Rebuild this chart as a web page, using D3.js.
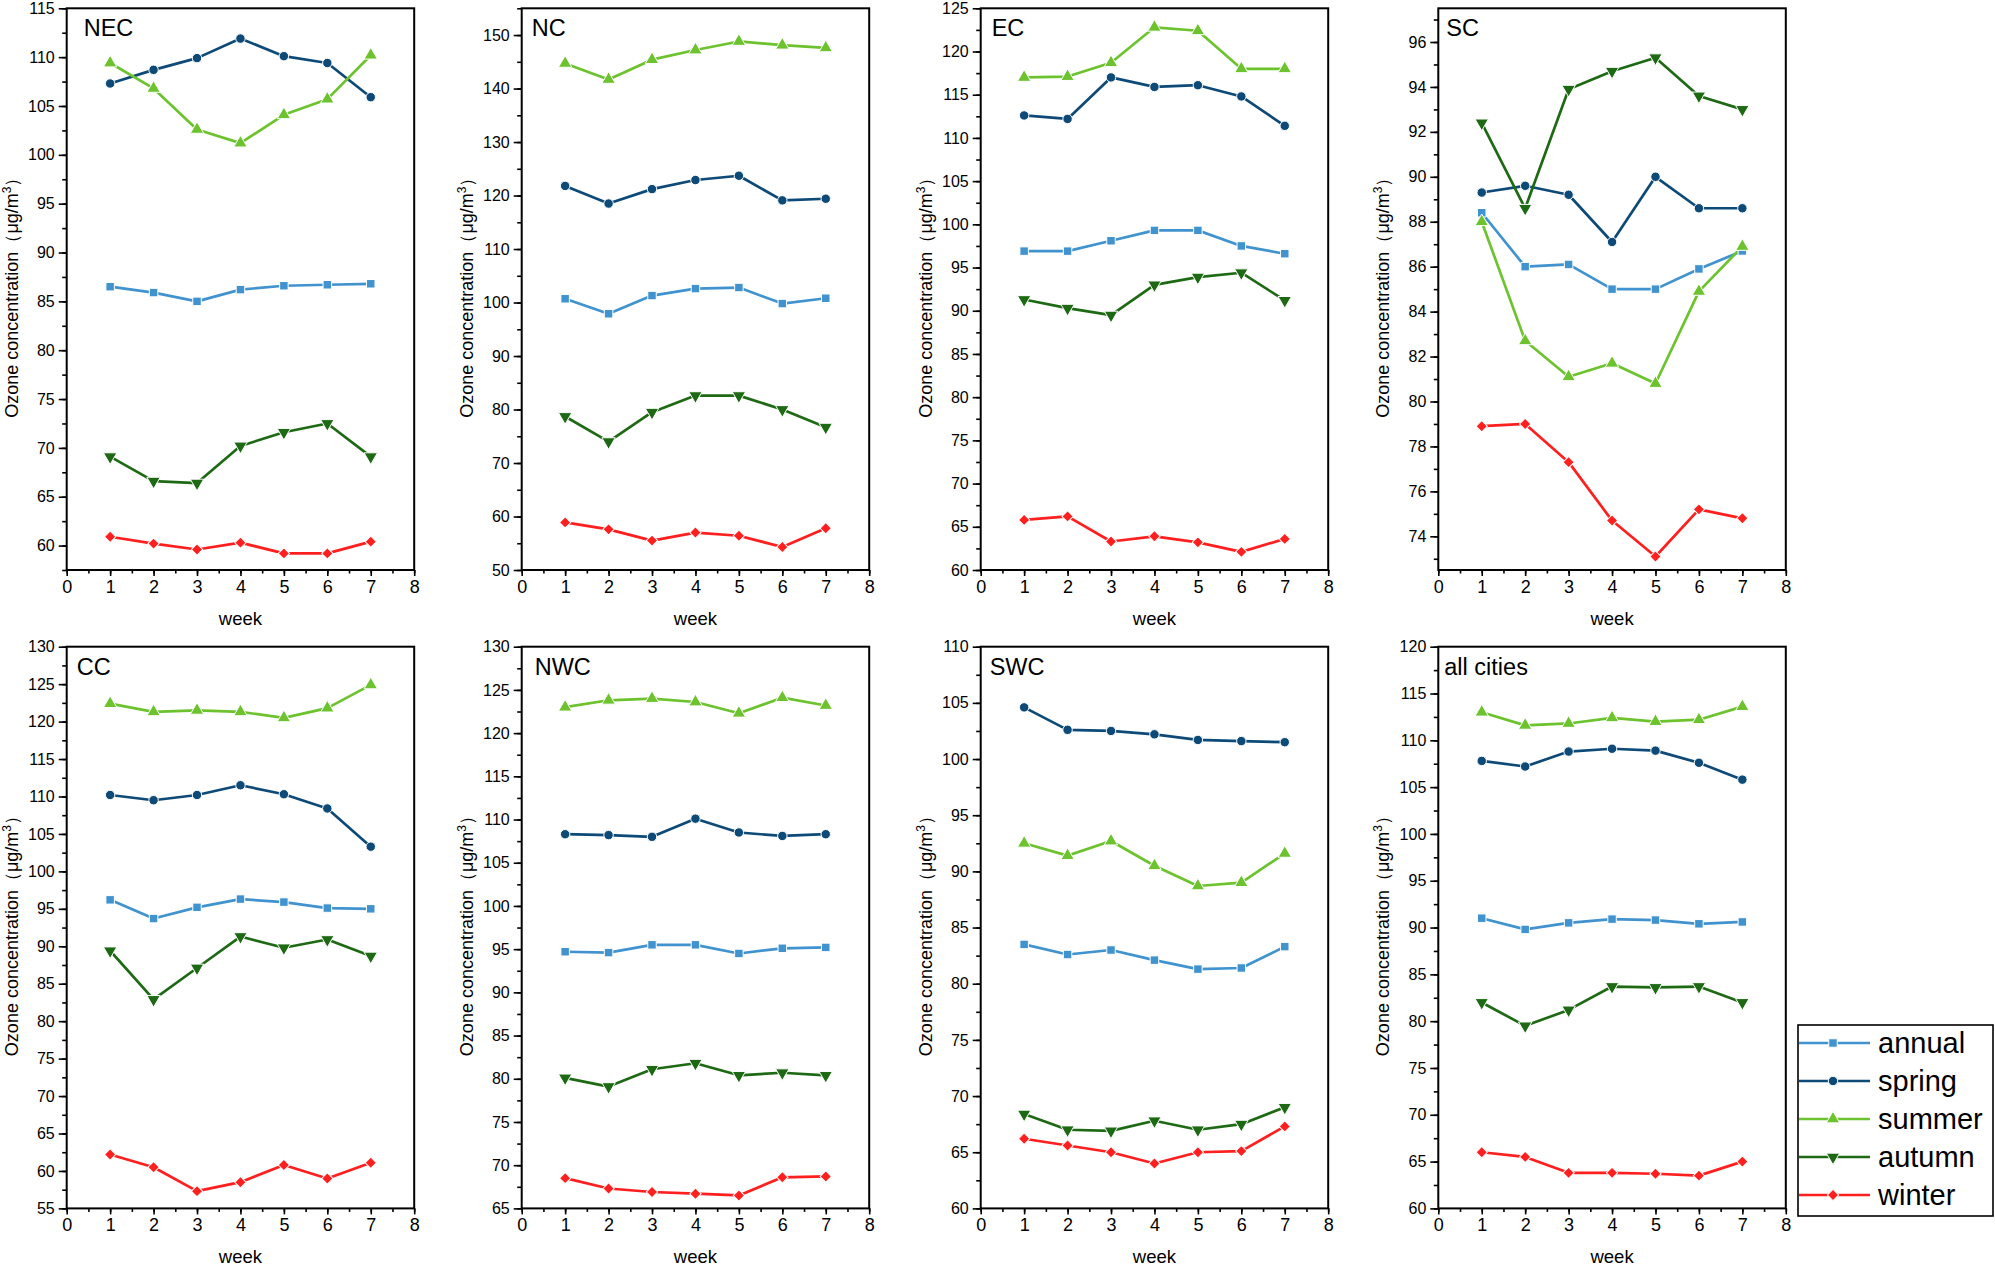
<!DOCTYPE html>
<html>
<head>
<meta charset="utf-8">
<script src="https://cdn.jsdelivr.net/npm/d3@7"></script>
<style>
  body { margin: 0; background: #fff; }
  svg { display: block; font-family: "Liberation Sans", Arial, sans-serif; }
</style>
</head>
<body>
<svg id="chart" width="1995" height="1266"></svg>
<script>
var weeks = [1, 2, 3, 4, 5, 6, 7];
var seasons = ['annual', 'spring', 'summer', 'autumn', 'winter'];
var regions = ['NEC', 'NC', 'EC', 'SC', 'CC', 'NWC', 'SWC', 'all cities'];

// y axis range and labelled ticks for each region
var yMins = [57.5, 50, 60, 72.5, 55, 65, 60, 60];
var yMaxs = [115, 155, 125, 97.5, 130, 130, 110, 120];
var yFirstTicks = [60, 50, 60, 74, 55, 65, 60, 60];
var ySteps = [5, 10, 5, 2, 5, 5, 5, 5];
var xTicks = [0, 1, 2, 3, 4, 5, 6, 7, 8];

// rows: annual, spring, summer, autumn, winter
var necValues = [
  [86.5, 85.9, 85.0, 86.2, 86.6, 86.7, 86.8],
  [107.3, 108.7, 109.9, 111.9, 110.1, 109.4, 105.9],
  [109.4, 106.8, 102.6, 101.2, 104.1, 105.7, 110.2],
  [69.1, 66.6, 66.4, 70.2, 71.6, 72.5, 69.1],
  [60.9, 60.2, 59.6, 60.3, 59.2, 59.2, 60.4]
];
var ncValues = [
  [100.7, 97.9, 101.3, 102.6, 102.8, 99.8, 100.8],
  [121.8, 118.5, 121.2, 122.9, 123.7, 119.1, 119.4],
  [144.7, 141.7, 145.4, 147.2, 148.8, 148.1, 147.6],
  [78.7, 74.0, 79.5, 82.6, 82.6, 80.0, 76.7],
  [58.9, 57.6, 55.5, 57.0, 56.4, 54.3, 57.8]
];
var ecValues = [
  [96.9, 96.9, 98.1, 99.3, 99.3, 97.5, 96.6],
  [112.6, 112.2, 117.0, 115.9, 116.1, 114.8, 111.4],
  [117.0, 117.1, 118.7, 122.8, 122.4, 118.0, 118.0],
  [91.3, 90.3, 89.5, 93.0, 93.9, 94.4, 91.2],
  [65.8, 66.2, 63.3, 63.9, 63.2, 62.1, 63.6]
];
var scValues = [
  [88.4, 86.0, 86.1, 85.0, 85.0, 85.9, 86.7],
  [89.3, 89.6, 89.2, 87.1, 90.0, 88.6, 88.6],
  [88.0, 82.7, 81.1, 81.7, 80.8, 84.9, 86.9],
  [92.4, 88.6, 93.9, 94.7, 95.3, 93.6, 93.0],
  [78.9, 79.0, 77.3, 74.7, 73.1, 75.2, 74.8]
];
var ccValues = [
  [96.2, 93.7, 95.2, 96.3, 95.9, 95.1, 95.0],
  [110.2, 109.5, 110.2, 111.5, 110.3, 108.4, 103.3],
  [122.4, 121.3, 121.5, 121.3, 120.5, 121.8, 124.9],
  [89.4, 82.9, 87.1, 91.3, 89.8, 90.9, 88.7],
  [62.2, 60.5, 57.3, 58.5, 60.8, 59.0, 61.1]
];
var nwcValues = [
  [94.7, 94.6, 95.5, 95.5, 94.5, 95.1, 95.2],
  [108.3, 108.2, 108.0, 110.1, 108.5, 108.1, 108.3],
  [123.0, 123.8, 124.0, 123.6, 122.3, 124.1, 123.2],
  [80.1, 79.1, 81.1, 81.8, 80.4, 80.7, 80.4],
  [68.5, 67.3, 66.9, 66.7, 66.5, 68.6, 68.7]
];
var swcValues = [
  [83.5, 82.6, 83.0, 82.1, 81.3, 81.4, 83.3],
  [104.6, 102.6, 102.5, 102.2, 101.7, 101.6, 101.5],
  [92.5, 91.4, 92.7, 90.5, 88.7, 89.0, 91.6],
  [68.4, 67.0, 66.9, 67.8, 67.0, 67.5, 69.0],
  [66.2, 65.6, 65.0, 64.0, 65.0, 65.1, 67.3]
];
var allValues = [
  [91.0, 89.8, 90.5, 90.9, 90.8, 90.4, 90.6],
  [107.8, 107.2, 108.8, 109.1, 108.9, 107.6, 105.8],
  [113.0, 111.6, 111.8, 112.4, 112.0, 112.2, 113.6],
  [82.0, 79.5, 81.2, 83.7, 83.6, 83.7, 82.0],
  [66.0, 65.5, 63.8, 63.8, 63.7, 63.5, 65.0]
];
var regionValues = [necValues, ncValues, ecValues, scValues, ccValues, nwcValues, swcValues, allValues];

// styling
var colors = ['#4193cf', '#0d4a78', '#6cc32e', '#1e6a14', '#ff1f1f'];
var shapes = [
  { type: d3.symbolSquare, size: 72, rot: 0 },
  { type: d3.symbolCircle, size: 70, rot: 0 },
  { type: d3.symbolTriangle, size: 78, rot: 0 },
  { type: d3.symbolTriangle, size: 78, rot: 180 },
  { type: d3.symbolSquare, size: 64, rot: 45 }
];

var colLefts = [66.7, 521.7, 980.7, 1438.3];
var rowTops = [8.3, 646.7];
var plotW = 347.5;
var plotH = 561.7;
var titleDx = [17, 10, 11, 8, 10, 13, 9, 6];

var svg = d3.select('#chart');

function drawMarker(g, i, x, y) {
    var s = shapes[i];
    g.append('path')
        .attr('d', d3.symbol().type(s.type).size(s.size)())
        .attr('transform', 'translate(' + x + ',' + y + ') rotate(' + s.rot + ')')
        .attr('fill', colors[i])
        .attr('stroke', '#fff')
        .attr('stroke-width', 1);
}

function renderPanel(p) {
    var left = colLefts[p % 4];
    var top = rowTops[Math.floor(p / 4)];
    var g = svg.append('g').attr('transform', 'translate(' + left + ',' + top + ')');

    var x = d3.scaleLinear().domain([0, 8]).range([0, plotW]);
    var y = d3.scaleLinear().domain([yMins[p], yMaxs[p]]).range([plotH, 0]);

    var yTicks = d3.range(yFirstTicks[p], yMaxs[p] + 0.001, ySteps[p]);
    var yMinor = d3.range(yFirstTicks[p] - ySteps[p] / 2, yMaxs[p] + 0.001, ySteps[p] / 2)
        .filter(function (v) { return v >= yMins[p] - 0.001; });
    var xMinor = d3.range(0, 8.001, 0.5);

    // minor ticks
    g.append('g')
        .attr('transform', 'translate(0,' + plotH + ')')
        .call(d3.axisBottom(x).tickValues(xMinor).tickSize(3.5).tickFormat(''))
        .call(function (a) { a.select('.domain').remove(); });
    g.append('g')
        .call(d3.axisLeft(y).tickValues(yMinor).tickSize(4.5).tickFormat(''))
        .call(function (a) { a.select('.domain').remove(); });

    // major ticks and labels
    var xa = g.append('g')
        .attr('transform', 'translate(0,' + plotH + ')')
        .call(d3.axisBottom(x).tickValues(xTicks).tickSize(6).tickPadding(4).tickSizeOuter(0));
    xa.selectAll('text').attr('font-size', 18).attr('fill', '#000');
    var ya = g.append('g')
        .call(d3.axisLeft(y).tickValues(yTicks).tickSize(8).tickPadding(4).tickSizeOuter(0));
    ya.selectAll('text').attr('font-size', 16).attr('fill', '#000');
    g.selectAll('.tick line').attr('stroke', '#000').attr('stroke-width', 1.6);
    g.selectAll('.domain').remove();

    // frame
    g.append('rect')
        .attr('x', 0).attr('y', 0)
        .attr('width', plotW).attr('height', plotH)
        .attr('fill', 'none')
        .attr('stroke', '#000')
        .attr('stroke-width', 2);

    // series
    var line = d3.line()
        .x(function (d, i) { return x(weeks[i]); })
        .y(function (d) { return y(d); });
    regionValues[p].forEach(function (vals, si) {
        g.append('path')
            .datum(vals)
            .attr('d', line)
            .attr('fill', 'none')
            .attr('stroke', colors[si])
            .attr('stroke-width', 2.7)
            .attr('stroke-linejoin', 'round');
    });
    regionValues[p].forEach(function (vals, si) {
        vals.forEach(function (v, i) {
            drawMarker(g, si, x(weeks[i]), y(v));
        });
    });

    // title
    g.append('text')
        .attr('x', titleDx[p])
        .attr('y', 28)
        .attr('font-size', 23.5)
        .text(regions[p]);

    // axis titles
    g.append('text')
        .attr('x', plotW / 2)
        .attr('y', plotH + 55)
        .attr('text-anchor', 'middle')
        .attr('font-size', 18.5)
        .text('week');

    var yl = g.append('text')
        .attr('transform', 'translate(-49,' + (plotH / 2 + 4) + ') rotate(-90)')
        .attr('text-anchor', 'middle')
        .attr('font-size', 18);
    yl.append('tspan').text('Ozone concentration（μg/m');
    yl.append('tspan').attr('baseline-shift', 'super').attr('font-size', 12).text('3');
    yl.append('tspan').text('）');
}

regions.forEach(function (r, p) { renderPanel(p); });

// legend
var lg = svg.append('g').attr('transform', 'translate(1798,1025)');
lg.append('rect')
    .attr('x', 0).attr('y', 0)
    .attr('width', 195).attr('height', 191)
    .attr('fill', '#fff')
    .attr('stroke', '#000')
    .attr('stroke-width', 1.6);
seasons.forEach(function (s, i) {
    var cy = 18 + i * 38;
    lg.append('line')
        .attr('x1', 1).attr('x2', 72)
        .attr('y1', cy).attr('y2', cy)
        .attr('stroke', colors[i])
        .attr('stroke-width', 2.7);
    drawMarker(lg, i, 35, cy);
    lg.append('text')
        .attr('x', 80)
        .attr('y', cy)
        .attr('dy', '0.35em')
        .attr('font-size', 29)
        .text(s);
});
</script>
</body>
</html>
